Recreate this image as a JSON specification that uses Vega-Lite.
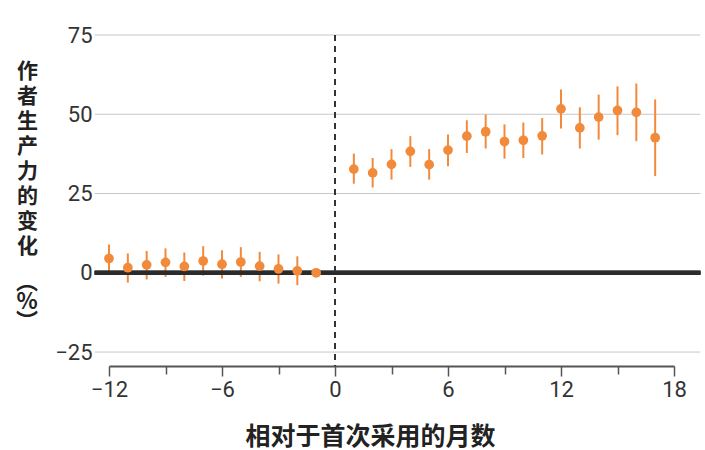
{
  "$schema": "https://vega.github.io/schema/vega-lite/v6.json",
  "width": 565,
  "height": 331,
  "autosize": "none",
  "padding": {"left": 109, "top": 35, "right": 31, "bottom": 84},
  "background": "white",
  "config": {"view": {"stroke": null}},
  "title": {
    "text": ["︵", "%", "︶"],
    "orient": "top",
    "anchor": "start",
    "frame": "group",
    "align": "center",
    "baseline": "top",
    "offset": 0,
    "dx": -82,
    "dy": 310,
    "lineHeight": 20,
    "font": "Noto Sans CJK SC",
    "fontSize": 22,
    "fontWeight": "bold",
    "color": "#222"
  },
  "datasets": {
    "grid": [{"g": 75}, {"g": 50}, {"g": 25}, {"g": -25}],
    "est": [
      {"m": -12, "v": 4.5, "lo": -0.1, "hi": 8.9},
      {"m": -11, "v": 1.6, "lo": -3.1, "hi": 6.1},
      {"m": -10, "v": 2.5, "lo": -2.1, "hi": 6.9},
      {"m": -9, "v": 3.3, "lo": -1.3, "hi": 7.7},
      {"m": -8, "v": 2.0, "lo": -2.6, "hi": 6.4},
      {"m": -7, "v": 3.7, "lo": -0.9, "hi": 8.4},
      {"m": -6, "v": 2.7, "lo": -1.8, "hi": 7.1},
      {"m": -5, "v": 3.4, "lo": -1.3, "hi": 8.1},
      {"m": -4, "v": 2.1, "lo": -2.7, "hi": 6.6},
      {"m": -3, "v": 1.2, "lo": -3.4, "hi": 5.8},
      {"m": -2, "v": 0.6, "lo": -3.9, "hi": 5.2},
      {"m": -1, "v": 0},
      {"m": 1, "v": 32.7, "lo": 28.1, "hi": 37.6},
      {"m": 2, "v": 31.5, "lo": 26.9, "hi": 36.2},
      {"m": 3, "v": 34.2, "lo": 29.4, "hi": 39.0},
      {"m": 4, "v": 38.3, "lo": 33.4, "hi": 43.1},
      {"m": 5, "v": 34.1, "lo": 29.4, "hi": 39.0},
      {"m": 6, "v": 38.7, "lo": 33.6, "hi": 43.6},
      {"m": 7, "v": 43.1, "lo": 37.8, "hi": 48.1},
      {"m": 8, "v": 44.5, "lo": 39.2, "hi": 49.9},
      {"m": 9, "v": 41.4, "lo": 36.0, "hi": 46.8},
      {"m": 10, "v": 41.8, "lo": 36.2, "hi": 47.4},
      {"m": 11, "v": 43.2, "lo": 37.3, "hi": 48.8},
      {"m": 12, "v": 51.7, "lo": 45.5, "hi": 57.8},
      {"m": 13, "v": 45.7, "lo": 39.2, "hi": 52.2},
      {"m": 14, "v": 49.1, "lo": 42.0, "hi": 56.2},
      {"m": 15, "v": 51.2, "lo": 43.4, "hi": 58.8},
      {"m": 16, "v": 50.6, "lo": 41.5, "hi": 59.7},
      {"m": 17, "v": 42.6, "lo": 30.5, "hi": 54.7}
    ]
  },
  "layer": [
    {
      "data": {"name": "grid"},
      "mark": {"type": "rule", "color": "#c8c8c8", "strokeWidth": 1},
      "encoding": {
        "x": {
          "datum": -12.76,
          "type": "quantitative",
          "scale": {"domain": [-12, 18], "nice": false, "zero": false},
          "axis": {
            "values": [-12, -9, -6, -3, 0, 3, 6, 9, 12, 15, 18],
            "format": "d",
            "labelExpr": "datum.value % 6 === 0 ? datum.label : ''",
            "tickSize": {"condition": {"test": "datum.value % 6 === 0", "value": 10}, "value": 8},
            "tickColor": "#555",
            "tickWidth": 1.5,
            "domainColor": "#555",
            "domainWidth": 2,
            "grid": false,
            "labelFont": "Roboto",
            "labelFontSize": 22,
            "labelColor": "#333",
            "labelPadding": 3,
            "labelFlush": false,
            "labelOverlap": false,
            "title": "相对于首次采用的月数",
            "titleFont": "Noto Sans CJK SC",
            "titleFontSize": 25,
            "titleFontWeight": "bold",
            "titleColor": "#222",
            "titleX": 261,
            "titleY": 70,
            "titleAlign": "center",
            "titleBaseline": "middle"
          }
        },
        "x2": {"datum": 19.4},
        "y": {
          "field": "g",
          "type": "quantitative",
          "scale": {"domain": [-29.4, 75], "nice": false, "zero": false},
          "axis": {
            "values": [-25, 0, 25, 50, 75],
            "domain": false,
            "ticks": false,
            "grid": false,
            "labelPadding": 17,
            "labelFont": "Roboto",
            "labelFontSize": 22,
            "labelColor": "#333",
            "title": ["作", "者", "生", "产", "力", "的", "变", "化"],
            "titleFont": "Noto Sans CJK SC",
            "titleFontSize": 21,
            "titleFontWeight": "bold",
            "titleColor": "#222",
            "titleAngle": 0,
            "titleAlign": "center",
            "titleBaseline": "top",
            "titleX": -82,
            "titleY": 25,
            "titleLineHeight": 25
          }
        }
      }
    },
    {
      "data": {"name": "est"},
      "mark": {"type": "rule", "color": "#F28A3C", "strokeWidth": 2},
      "encoding": {
        "x": {"field": "m", "type": "quantitative"},
        "y": {"field": "lo", "type": "quantitative"},
        "y2": {"field": "hi"}
      }
    },
    {
      "data": {"name": "grid"},
      "mark": {"type": "rule", "color": "#2b2b2b", "strokeWidth": 4},
      "encoding": {
        "x": {"datum": -12.76, "type": "quantitative"},
        "x2": {"datum": 19.4},
        "y": {"datum": 0, "type": "quantitative"}
      }
    },
    {
      "data": {"name": "grid"},
      "mark": {"type": "rule", "color": "#333", "strokeWidth": 1.5, "strokeDash": [6, 5]},
      "encoding": {
        "x": {"datum": 0, "type": "quantitative"},
        "y": {"datum": 75, "type": "quantitative"},
        "y2": {"datum": -29.4}
      }
    },
    {
      "data": {"name": "est"},
      "mark": {"type": "point", "filled": true, "opacity": 1, "color": "#F28A3C", "size": 95},
      "encoding": {
        "x": {"field": "m", "type": "quantitative"},
        "y": {"field": "v", "type": "quantitative"}
      }
    }
  ]
}
